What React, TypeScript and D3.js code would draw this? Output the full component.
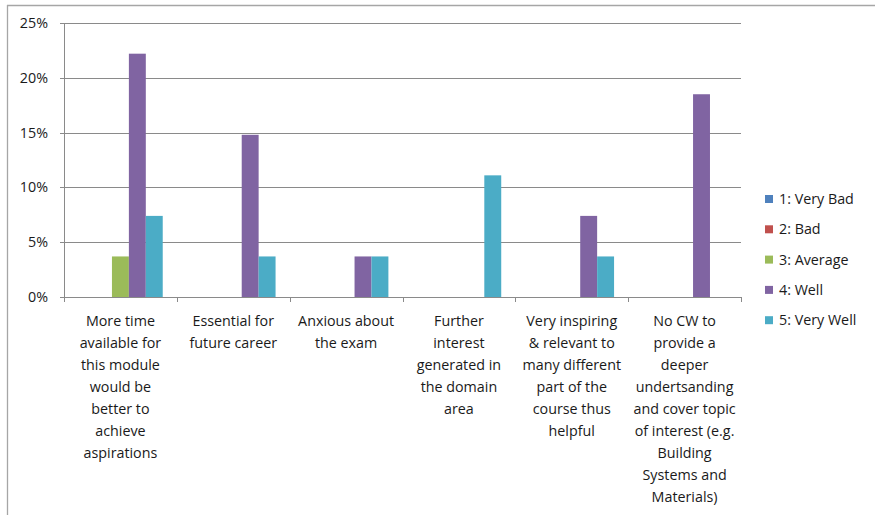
import React from "react";
import * as d3 from "d3";

const categories = [
  ["More time", "available for", "this module", "would be", "better to", "achieve", "aspirations"],
  ["Essential for", "future career"],
  ["Anxious about", "the exam"],
  ["Further", "interest", "generated in", "the domain", "area"],
  ["Very inspiring", "& relevant to", "many different", "part of the", "course thus", "helpful"],
  ["No CW to", "provide a", "deeper", "undertsanding", "and cover topic", "of interest (e.g.", "Building", "Systems and", "Materials)"],
];
const seriesNames = ["1: Very Bad", "2: Bad", "3: Average", "4: Well", "5: Very Well"];
const seriesColors = ["#4F81BD", "#C0504D", "#9BBB59", "#8064A2", "#4BACC6"];
// values per series, per category (fractions)
const veryBad = [0, 0, 0, 0, 0, 0];
const bad = [0, 0, 0, 0, 0, 0];
const average = [0.037, 0, 0, 0, 0, 0];
const well = [0.222, 0.148, 0.037, 0, 0.074, 0.185];
const veryWell = [0.074, 0.037, 0.037, 0.111, 0.037, 0];
const seriesValues = [veryBad, bad, average, well, veryWell];
const yTicks = [0, 0.05, 0.1, 0.15, 0.2, 0.25];

export default function App() {
  const W = 875, H = 515;
  const left = 64, right = 741, top = 23, bottom = 297;
  const catIdx = categories.map((_, i) => String(i));
  const x0 = d3.scaleBand<string>().domain(catIdx).range([left, right]);
  const bw = x0.bandwidth();
  const x1 = d3.scaleBand<string>().domain(seriesNames).range([bw * 0.125, bw * 0.875]);
  const y = d3.scaleLinear().domain([0, 0.25]).range([bottom, top]);
  const fmt = d3.format(".0%");
  const font = "'Open Sans', sans-serif";
  const fs = 14.3;
  const textColor = "#1a1a1a";
  const grid = "#8a8a8a";
  const boundaries = d3.range(categories.length + 1).map((i) => left + i * bw);

  return (
    <svg width={W} height={H} style={{ position: "absolute", left: 0, top: 0, background: "#fff" }} fontFamily={font}>
      <rect x={0} y={0} width={W} height={H} fill="#fff" />
      {/* outer frame */}
      <line x1={7} x2={W} y1={5.5} y2={5.5} stroke="#a6a6a6" strokeWidth={1.3} />
      <line x1={7.5} x2={7.5} y1={5} y2={H} stroke="#a6a6a6" strokeWidth={1.3} />
      {/* gridlines and y labels */}
      {yTicks.map((t) => (
        <g key={t}>
          <line x1={left - 4} x2={right} y1={Math.round(y(t)) + 0.5} y2={Math.round(y(t)) + 0.5} stroke={grid} strokeWidth={1} />
          <text x={48} y={y(t)} dy="0.35em" textAnchor="end" fontSize={fs} fill={textColor}>
            {fmt(t)}
          </text>
        </g>
      ))}
      {/* y axis */}
      <line x1={left + 0.5} x2={left + 0.5} y1={top} y2={bottom} stroke={grid} />
      {/* x ticks */}
      {boundaries.map((b, i) => (
        <line key={i} x1={Math.round(b) + 0.5} x2={Math.round(b) + 0.5} y1={bottom} y2={bottom + 5} stroke={grid} />
      ))}
      {/* bars */}
      {seriesValues.map((vals, si) =>
        vals.map((v, ci) =>
          v > 0 ? (
            <rect
              key={`${si}-${ci}`}
              x={(x0(String(ci)) as number) + (x1(seriesNames[si]) as number)}
              y={y(v)}
              width={x1.bandwidth()}
              height={bottom - y(v)}
              fill={seriesColors[si]}
            />
          ) : null
        )
      )}
      {/* category labels */}
      {categories.map((lines, ci) => (
        <text key={ci} textAnchor="middle" fontSize={fs} fill={textColor}>
          {lines.map((ln, li) => (
            <tspan key={li} x={(x0(String(ci)) as number) + bw / 2} y={326 + li * 22}>
              {ln}
            </tspan>
          ))}
        </text>
      ))}
      {/* legend */}
      {seriesNames.map((n, i) => (
        <g key={n} transform={`translate(765, ${199 + i * 30.3})`}>
          <rect x={0} y={-4} width={8} height={8} fill={seriesColors[i]} />
          <text x={14} y={0} dy="0.35em" fontSize={fs} fill={textColor}>
            {n}
          </text>
        </g>
      ))}
    </svg>
  );
}
